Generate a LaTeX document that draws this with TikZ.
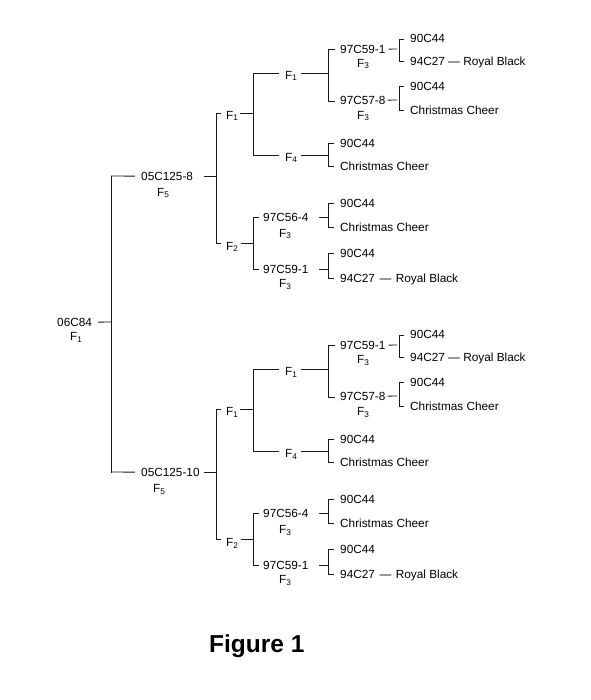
\documentclass[tikz,border=0pt]{standalone}
\usepackage{fontspec}
\setmainfont{Liberation Sans}
\begin{document}
\begin{tikzpicture}[x=1pt,y=-1pt,
  lbl/.style={anchor=base west,inner sep=0pt,yshift=-4.2pt,font=\fontsize{11.8}{14}\selectfont},
  ln/.style={line width=0.85pt,draw=black!90}]
\useasboundingbox (0,0) rectangle (590,700);
\fill[white] (0,0) rectangle (590,700);
% root
\node[lbl] (root) at (57,322) {06C84};
\node[lbl] (rootf) at (70,336) {F\textsubscript{1}};
\coordinate (rbar) at (111,322);
\draw[ln] ([xshift=6pt]root.east) -- (rbar);
\draw[ln] (111,176) -- (111,473);
\foreach \p/\d/\t/\f in {a/0/05C125-8/157, b/296/05C125-10/153}{
  \node[lbl] (\p A) at (141,\d+176) {\t};
  \node[lbl] (\p Af) at (\f,\d+192) {F\textsubscript{5}};
  \node[lbl] (\p B) at (226,\d+115) {F\textsubscript{1}};
  \node[lbl] (\p C) at (285,\d+75) {F\textsubscript{1}};
  \node[lbl] (\p D) at (340,\d+49) {97C59-1};
  \node[lbl] (\p Df) at (357,\d+63) {F\textsubscript{3}};
  \node[lbl] (\p Da) at (410,\d+38) {90C44};
  \node[lbl] (\p Db) at (410,\d+61) {94C27 — Royal Black};
  \node[lbl] (\p E) at (340,\d+100) {97C57-8};
  \node[lbl] (\p Ef) at (357,\d+115) {F\textsubscript{3}};
  \node[lbl] (\p Ea) at (410,\d+86) {90C44};
  \node[lbl] (\p Eb) at (410,\d+110) {Christmas Cheer};
  \node[lbl] (\p G) at (285,\d+157) {F\textsubscript{4}};
  \node[lbl] (\p Ga) at (340,\d+143) {90C44};
  \node[lbl] (\p Gb) at (340,\d+166) {Christmas Cheer};
  \node[lbl] (\p H) at (226,\d+246) {F\textsubscript{2}};
  \node[lbl] (\p I) at (263,\d+217) {97C56-4};
  \node[lbl] (\p If) at (279,\d+233) {F\textsubscript{3}};
  \node[lbl] (\p Ia) at (340,\d+203) {90C44};
  \node[lbl] (\p Ib) at (340,\d+227) {Christmas Cheer};
  \node[lbl] (\p J) at (263,\d+269) {97C59-1};
  \node[lbl] (\p Jf) at (279,\d+283) {F\textsubscript{3}};
  \node[lbl] (\p Ja) at (340,\d+253) {90C44};
  \node[lbl] (\p Jb) at (340,\d+278) {94C27\hspace{1.5pt} — \hspace{1pt}Royal Black};
  % connectors
  \draw[ln] ([xshift=-6pt]\p A.west) -- (111,\d+176);
  \draw[ln] (204,\d+176) -- (216,\d+176);
  \draw[ln] (221,\d+113) -- (216,\d+113) -- (216,\d+243) -- (221,\d+243);
  \draw[ln] (240,\d+113) -- (253,\d+113);
  \draw[ln] (279,\d+73) -- (253,\d+73) -- (253,\d+155) -- (279,\d+155);
  \draw[ln] (301,\d+73) -- (328,\d+73);
  \draw[ln] (335,\d+49) -- (328,\d+49) -- (328,\d+101) -- (335,\d+101);
  \draw[ln] ([xshift=3pt]\p D.east) -- (397,\d+49);
  \draw[ln] (404,\d+39) -- (399,\d+39) -- (399,\d+61) -- (404,\d+61);
  \draw[ln] ([xshift=2pt]\p E.east) -- (397,\d+100);
  \draw[ln] (404,\d+86) -- (399,\d+86) -- (399,\d+110) -- (404,\d+110);
  \draw[ln] (301,\d+155) -- (328,\d+155);
  \draw[ln] (334,\d+143) -- (328,\d+143) -- (328,\d+166) -- (334,\d+166);
  \draw[ln] (241,\d+243) -- (253,\d+243);
  \draw[ln] (259,\d+217) -- (253,\d+217) -- (253,\d+269) -- (259,\d+269);
  \draw[ln] (319,\d+217) -- (328,\d+217);
  \draw[ln] (334,\d+203) -- (328,\d+203) -- (328,\d+227) -- (334,\d+227);
  \draw[ln] (319,\d+269) -- (328,\d+269);
  \draw[ln] (334,\d+253) -- (328,\d+253) -- (328,\d+278) -- (334,\d+278);
}
\node[anchor=base west,inner sep=0pt,font=\bfseries\fontsize{24.5}{28}\selectfont] (fig) at (209,652) {Figure 1};
\end{tikzpicture}
\end{document}
